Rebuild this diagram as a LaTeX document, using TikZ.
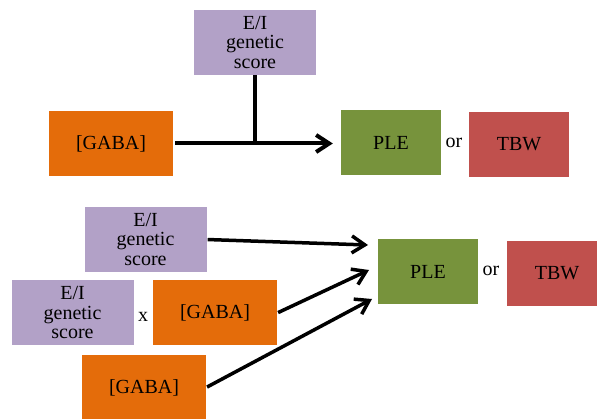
\documentclass[tikz,border=0pt]{standalone}
\usepackage{fontspec}
\setmainfont{Liberation Serif}
\usetikzlibrary{arrows.meta}
\definecolor{eipurple}{HTML}{B2A1C7}
\definecolor{gabaorange}{HTML}{E46C0A}
\definecolor{plegreen}{HTML}{77933C}
\definecolor{tbwred}{HTML}{C0504D}
\begin{document}
\begin{tikzpicture}[x=1pt, y=-1pt, >={Straight Barb[length=13pt,width=17pt]},
  box/.style={minimum width=#1, inner sep=0pt, align=center,
    font=\fontsize{20}{19.5}\selectfont},
  eibox/.style={box=122pt, minimum height=65pt, fill=eipurple},
  gababox/.style={box=124pt, minimum height=65pt, fill=gabaorange},
  plebox/.style={box=100pt, minimum height=65pt, fill=plegreen},
  tbwbox/.style={box=100pt, minimum height=65pt, fill=tbwred},
  word/.style={inner sep=0pt, font=\fontsize{20}{20}\selectfont}]
  \useasboundingbox (0,0) rectangle (597,419);
  \clip (0,0) rectangle (597,419);

  \begin{scope}
    \node[eibox] (ei1) at (255, 42.5) {E/I\\genetic\\score};
    \node[gababox] (gaba1) at (111, 143.5) {[GABA]};
    \node[plebox] (ple1) at (391, 143) {PLE};
    \node[word] (or1) at (454, 143) {or};
    \node[tbwbox] (tbw1) at (519, 144.5) {TBW};
    \draw[line width=4pt,->,shorten <=2pt,shorten >=8pt]
      (gaba1.east) -- (gaba1.east -| ple1.west);
    \draw[line width=3.5pt] (ei1.south) -- (ei1.south |- gaba1.east);
  \end{scope}

  \begin{scope}
    \node[eibox] (ei2) at (145.5, 239.5) {E/I\\genetic\\score};
    \node[eibox] (ei3) at (72.5, 313) {E/I\\genetic\\score};
    \node[word] (times) at (143, 317) {x};
    \node[gababox] (gaba2) at (215, 313) {[GABA]};
    \node[gababox] (gaba3) at (144, 387.5) {[GABA]};
    \node[plebox] (ple2) at (428, 271.5) {PLE};
    \node[word] (or2) at (491, 271) {or};
    \node[tbwbox] (tbw2) at (557, 273.5) {TBW};
    \coordinate (tipA) at (368, 245);
    \coordinate (tipB) at (369, 270);
    \coordinate (tipC) at (372, 299);
    \foreach \src/\tip in {ei2/tipA, gaba2/tipB, gaba3/tipC}
      \draw[line width=3.5pt,->,shorten <=1pt] (\src.east) -- (\tip);
  \end{scope}
\end{tikzpicture}
\end{document}
